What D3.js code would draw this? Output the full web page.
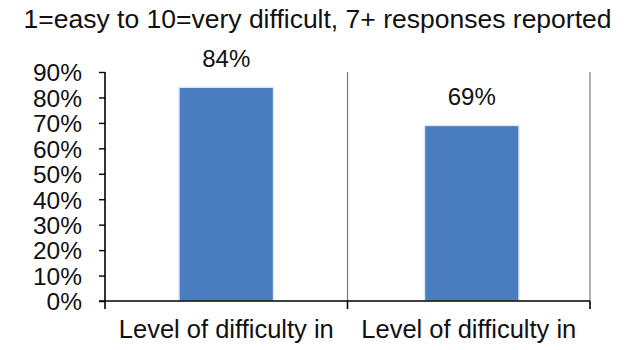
<!DOCTYPE html>
<html>
<head>
<meta charset="utf-8">
<script src="https://cdn.jsdelivr.net/npm/d3@7"></script>
<style>
  html, body { margin: 0; padding: 0; background: #fff; }
  svg { display: block; font-family: "Liberation Sans", Arial, Helvetica, sans-serif; }
</style>
</head>
<body>
<svg id="chart" width="633" height="350"></svg>
<script>
// Share of respondents rating difficulty 7 or higher
const subtitle = "1=easy to 10=very difficult, 7+ responses reported";
const categories = ["Level of difficulty in", "Level of difficulty in "];
const values = [0.84, 0.69];
const valueLabels = ["84%", "69%"];
const yTicks = [0, 0.1, 0.2, 0.3, 0.4, 0.5, 0.6, 0.7, 0.8, 0.9];

const svg = d3.select("#chart");
const W = 633, H = 350;
const margin = { left: 105, right: 43, top: 72, bottom: 49 };
const plotBottom = H - margin.bottom;

const x = d3.scaleBand()
  .domain(categories)
  .range([margin.left, W - margin.right])
  .padding(0);

const y = d3.scaleLinear()
  .domain([0, 0.9])
  .range([plotBottom, margin.top]);

svg.append("rect").attr("width", W).attr("height", H).attr("fill", "#fff");

// Subtitle
svg.append("text")
  .attr("x", W / 2 + 1)
  .attr("y", 28)
  .attr("text-anchor", "middle")
  .attr("font-size", 26.5)
  .attr("fill", "#111")
  .text(subtitle);

// Vertical separators at the right edge of each category
svg.append("g")
  .selectAll("line")
  .data(categories)
  .join("line")
  .attr("x1", d => x(d) + x.bandwidth())
  .attr("x2", d => x(d) + x.bandwidth())
  .attr("y1", y(0.9))
  .attr("y2", y(0))
  .attr("stroke", "#7a7a7a")
  .attr("stroke-width", 1.2);

// Bars (second bar sits a little right of its band centre)
const barW = x.bandwidth() * 0.39;
const barShift = [0, 3];
svg.append("g")
  .selectAll("rect")
  .data(values)
  .join("rect")
  .attr("x", (d, i) => x(categories[i]) + (x.bandwidth() - barW) / 2 + barShift[i])
  .attr("y", d => y(d))
  .attr("width", barW)
  .attr("height", d => y(0) - y(d))
  .attr("fill", "#4a7cc0")
  .attr("stroke", "#e2e8f0")
  .attr("stroke-width", 1.5);

// Value labels
svg.append("g")
  .selectAll("text")
  .data(values)
  .join("text")
  .attr("x", (d, i) => x(categories[i]) + x.bandwidth() / 2 + barShift[i])
  .attr("y", d => y(d) - 20)
  .attr("text-anchor", "middle")
  .attr("font-size", 24)
  .attr("fill", "#111")
  .text((d, i) => valueLabels[i]);

// Y axis
const yAxis = d3.axisLeft(y)
  .tickValues(yTicks)
  .tickFormat(d3.format(".0%"))
  .tickSize(6)
  .tickPadding(17);
const gy = svg.append("g")
  .attr("transform", `translate(${margin.left},0)`)
  .call(yAxis);
gy.select(".domain").attr("stroke", "#000").attr("stroke-width", 1.6)
  .attr("d", `M0,${y(0.9)}V${plotBottom + 8}`);
gy.selectAll(".tick line").attr("stroke", "#000").attr("stroke-width", 1.4);
gy.selectAll(".tick text")
  .attr("font-size", 24.5)
  .attr("fill", "#111")
  .attr("font-family", "Liberation Sans, Arial, sans-serif")
  .attr("dy", "0.36em");

// X axis
const xAxis = d3.axisBottom(x).tickSize(0).tickPadding(0);
const gx = svg.append("g")
  .attr("transform", `translate(0,${plotBottom})`)
  .call(xAxis);
gx.select(".domain").attr("stroke", "#000").attr("stroke-width", 1.6)
  .attr("d", `M${margin.left - 6},0H${W - margin.right}`);
gx.selectAll(".tick text")
  .attr("font-size", 25.5)
  .attr("fill", "#111")
  .attr("font-family", "Liberation Sans, Arial, sans-serif")
  .attr("dy", 0)
  .attr("y", 37);
gx.selectAll(".tick line").remove();

// Category boundary tick marks below the axis
gx.append("g")
  .selectAll("line")
  .data(categories)
  .join("line")
  .attr("x1", d => x(d) + x.bandwidth())
  .attr("x2", d => x(d) + x.bandwidth())
  .attr("y1", 0)
  .attr("y2", 8)
  .attr("stroke", "#000")
  .attr("stroke-width", 1.6);
</script>
</body>
</html>
